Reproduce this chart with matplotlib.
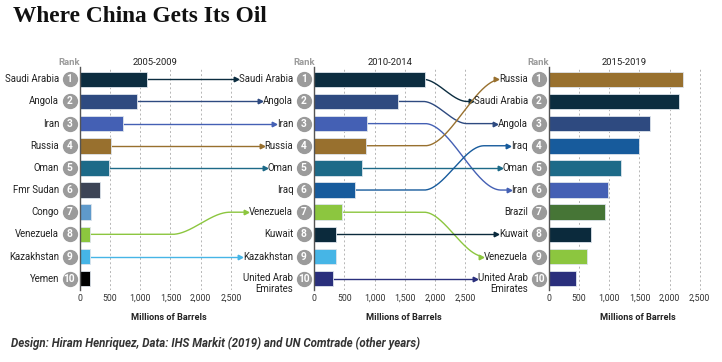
import matplotlib
matplotlib.use("Agg")
import matplotlib.pyplot as plt
import matplotlib.transforms as mtransforms
import numpy as np

plt.rcParams['font.family'] = ['Roboto', 'DejaVu Sans']

# ---- data (millions of barrels, top 10 suppliers per period) ----
periods = ["2005-2009", "2010-2014", "2015-2019"]

countries_1 = ["Saudi Arabia", "Angola", "Iran", "Russia", "Oman",
               "Fmr Sudan", "Congo", "Venezuela", "Kazakhstan", "Yemen"]
values_1 = [1110, 945, 710, 520, 475, 330, 187, 170, 165, 160]

countries_2 = ["Saudi Arabia", "Angola", "Iran", "Russia", "Oman",
               "Iraq", "Venezuela", "Kuwait", "Kazakhstan", "United Arab\nEmirates"]
values_2 = [1840, 1395, 870, 850, 790, 680, 465, 360, 355, 310]

countries_3 = ["Russia", "Saudi Arabia", "Angola", "Iraq", "Oman",
               "Iran", "Brazil", "Kuwait", "Venezuela", "United Arab\nEmirates"]
values_3 = [2225, 2160, 1670, 1485, 1190, 975, 935, 695, 625, 455]

colors = {
    "Saudi Arabia": "#0c2d40", "Angola": "#2e4a80", "Iran": "#4460b4",
    "Russia": "#98702e", "Oman": "#1d6a88", "Fmr Sudan": "#3c4456",
    "Congo": "#5f9acb", "Venezuela": "#8cc63f", "Kazakhstan": "#46b5e6",
    "Yemen": "#000000", "Iraq": "#175b9c", "Kuwait": "#0b2a3c",
    "United Arab\nEmirates": "#2a2f7c", "Brazil": "#467536",
}

ticks = [0, 500, 1000, 1500, 2000, 2500]
tick_labels = ["0", "500", "1,000", "1,500", "2,000", "2,500"]

# ---- layout (pixels) ----
W, H = 722, 362
fig = plt.figure(figsize=(W / 100, H / 100), dpi=100)
px_per_unit = 30.15 / 500
zeros = [80, 314.3, 549]
rights = [314.3, 549, 712]
top_px, bot_px = 67, 290
rank1_px, step_px = 79.3, 22.15
ytop = 1 + (top_px - rank1_px) / step_px
ybot = 1 + (bot_px - rank1_px) / step_px

all_countries = [countries_1, countries_2, countries_3]
all_values = [values_1, values_2, values_3]
axes = []
label_texts = []

for k in range(3):
    x0, x1 = zeros[k], rights[k]
    ax = fig.add_axes([x0 / W, 1 - bot_px / H, (x1 - x0) / W, (bot_px - top_px) / H])
    ax.set_xlim(0, (x1 - x0) / px_per_unit)
    ax.set_ylim(ybot, ytop)
    ranks = np.arange(1, 11)
    ax.barh(ranks, all_values[k], height=0.7,
            color=[colors[c] for c in all_countries[k]],
            edgecolor="#dde4ec", linewidth=0.6, zorder=3)
    ax.set_xticks(ticks)
    ax.set_xticklabels(tick_labels)
    ax.set_yticks([])
    ax.tick_params(axis="x", length=0, pad=3, labelsize=6.3, labelcolor="#333333")
    for t in ticks[1:]:
        ax.axvline(t, color="#b5b5b5", lw=0.7, ls=(0, (2, 2.5)), zorder=1)
    for s in ["top", "right", "bottom"]:
        ax.spines[s].set_visible(False)
    ax.spines["left"].set_color("#555555")
    ax.spines["left"].set_linewidth(1.0)
    ax.spines["left"].set_zorder(4)

    # rank circles and country labels
    circ_tr = mtransforms.offset_copy(ax.get_yaxis_transform(), fig=fig, x=-10.5, y=0, units="dots")
    ax.scatter(np.zeros(10), ranks, s=100, color="#9b9b9b", transform=circ_tr, clip_on=False, zorder=5)
    texts = []
    for r, c in zip(ranks, all_countries[k]):
        ax.text(0, r, str(r), transform=circ_tr, ha="center", va="center",
                color="white", fontsize=7.3, fontweight="bold", zorder=6, clip_on=False)
        dy = -5 if "\n" in c else 0
        lab_tr = mtransforms.offset_copy(ax.get_yaxis_transform(), fig=fig, x=-21, y=dy, units="dots")
        t = ax.text(0, r, c, transform=lab_tr, ha="right", va="center",
                    fontsize=6.9, color="#222222", linespacing=1.05, clip_on=False)
        texts.append(t)
    label_texts.append(texts)

    ax.text(0, ytop, "Rank", transform=circ_tr, ha="center", va="bottom",
            fontsize=6.8, fontweight="bold", color="#9b9b9b")
    ax.text(1250, ytop, periods[k], ha="center", va="bottom", fontsize=6.8, color="#222222")
    ax.text(1480, 1 + (317 - rank1_px) / step_px, "Millions of Barrels", ha="center",
            va="center", fontsize=6.6, fontweight="bold", color="#222222", clip_on=False)
    axes.append(ax)

# ---- connectors between periods ----
fig.canvas.draw()
renderer = fig.canvas.get_renderer()

for k in range(2):
    ax = axes[k]
    inv = ax.transData.inverted()
    for i, c in enumerate(all_countries[k]):
        if c not in all_countries[k + 1]:
            continue
        j = all_countries[k + 1].index(c)
        bb = label_texts[k + 1][j].get_window_extent(renderer)
        x_end = inv.transform((bb.x0 - 3, 0))[0]
        r0, r1 = i + 1, j + 1
        x_start = all_values[k][i]
        d = abs(r1 - r0)
        if k == 0:
            xc_px, half_px = 201, 29
        else:
            xc_px, half_px = 436 + 9 * d, 14 + 8 * d
        xc = (xc_px - zeros[k]) / px_per_unit
        half = max(half_px, 1) / px_per_unit
        xs = np.linspace(x_start, x_end, 300)
        tt = np.clip((xs - (xc - half)) / (2 * half), 0, 1)
        ss = tt * tt * (3 - 2 * tt)
        ys = r0 + (r1 - r0) * ss
        col = colors[c]
        ax.plot(xs, ys, color=col, lw=1.0, clip_on=False, zorder=2, solid_capstyle="butt")
        ax.plot([x_end], [r1], marker=">", ms=3.3, color=col, clip_on=False, zorder=2)

# ---- titles ----
fig.text(13 / W, 1 - 17 / H, "Where China Gets Its Oil", fontsize=16.8, fontweight="bold",
         family=["Liberation Serif", "DejaVu Serif"], ha="left", va="center", color="#111111")
fig.text(11 / W, 1 - 343 / H,
         "Design: Hiram Henriquez, Data: IHS Markit (2019) and UN Comtrade (other years)",
         fontsize=8.3, fontweight="bold", style="italic", family=["Roboto", "DejaVu Sans"],
         ha="left", va="center", color="#333333")

fig.savefig("out.png", dpi=100)
